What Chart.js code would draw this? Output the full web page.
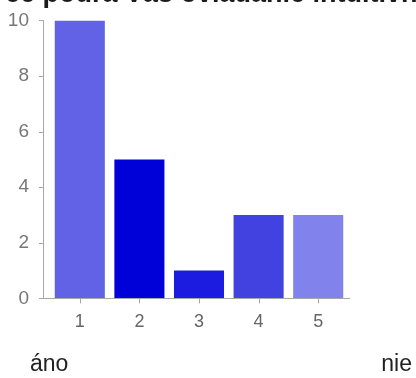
<!DOCTYPE html>
<html>
<head>
<meta charset="utf-8">
<script src="https://cdn.jsdelivr.net/npm/chart.js@4.4.1/dist/chart.umd.min.js"></script>
<style>
  html, body { margin: 0; padding: 0; background: #fff; overflow: hidden; }
  body { width: 416px; height: 378px; position: relative; }
  #wrap { position: absolute; left: 0; top: -4px; width: 416px; height: 382px; }
  #title { position: absolute; left: 5px; top: -23px; white-space: nowrap; font: bold 27px "Liberation Sans", Arial, sans-serif; color: #1a1a1a; line-height: 32px; }
  .end { position: absolute; top: 349px; font: 23px "Liberation Sans", Arial, sans-serif; color: #222; line-height: 28px; }
  #lo { left: 30px; }
  #hi { right: 4px; }
</style>
</head>
<body>
<div id="wrap"><canvas id="c"></canvas></div>
<div id="title"></div>
<div class="end" id="lo">áno</div>
<div class="end" id="hi">nie</div>
<script>
const titleText = 'ce podľa Vás ovládanie intuitívne?';
const categories = ['1', '2', '3', '4', '5'];
const counts = [10, 5, 1, 3, 3];
const barColors = ['#6262e6', '#0000d8', '#1c1ce0', '#4242e0', '#8282ec'];
const yTicks = [0, 2, 4, 6, 8, 10];

document.getElementById('title').textContent = titleText;

// Axis lines and small tick marks, offset a few pixels left of the plot area
const axisLines = {
  id: 'axisLines',
  afterDatasetsDraw(chart) {
    const { ctx, chartArea, scales } = chart;
    const x = scales.x, y = scales.y;
    const ax = chartArea.left - 7;
    const y0 = y.getPixelForValue(0);
    ctx.save();
    ctx.strokeStyle = '#a8a8a8';
    ctx.lineWidth = 1;
    ctx.beginPath();
    ctx.moveTo(ax + 0.5, y.getPixelForValue(10));
    ctx.lineTo(ax + 0.5, y0);
    yTicks.forEach(v => {
      const py = Math.round(y.getPixelForValue(v)) + 0.5;
      ctx.moveTo(ax - 4, py);
      ctx.lineTo(ax + 0.5, py);
    });
    ctx.moveTo(ax, Math.round(y0) + 0.5);
    ctx.lineTo(chartArea.right + 2, Math.round(y0) + 0.5);
    categories.forEach((c, i) => {
      const px = Math.round(x.getPixelForValue(i)) + 0.5;
      ctx.moveTo(px, y0);
      ctx.lineTo(px, y0 + 5);
    });
    ctx.stroke();
    ctx.restore();
  }
};

new Chart(document.getElementById('c'), {
  type: 'bar',
  data: {
    labels: categories,
    datasets: [{
      data: counts,
      backgroundColor: barColors,
      borderWidth: 0,
      categoryPercentage: 1,
      barPercentage: 0.84
    }]
  },
  options: {
    responsive: true,
    maintainAspectRatio: false,
    animation: false,
    layout: { padding: { left: 4, right: 68, top: 6, bottom: 40 } },
    plugins: {
      legend: { display: false },
      tooltip: { enabled: false },
      title: { display: false }
    },
    scales: {
      x: {
        grid: { display: false },
        border: { display: false },
        ticks: {
          color: '#666',
          padding: 5,
          font: { family: '"Liberation Sans", Arial, sans-serif', size: 18 }
        }
      },
      y: {
        min: 0,
        max: 10,
        afterFit(scale) { scale.width = 46; },
        grid: { display: false },
        border: { display: false },
        ticks: {
          stepSize: 2,
          color: '#777',
          padding: 13,
          font: { family: '"Liberation Sans", Arial, sans-serif', size: 19 }
        }
      }
    }
  },
  plugins: [axisLines]
});
</script>
</body>
</html>
